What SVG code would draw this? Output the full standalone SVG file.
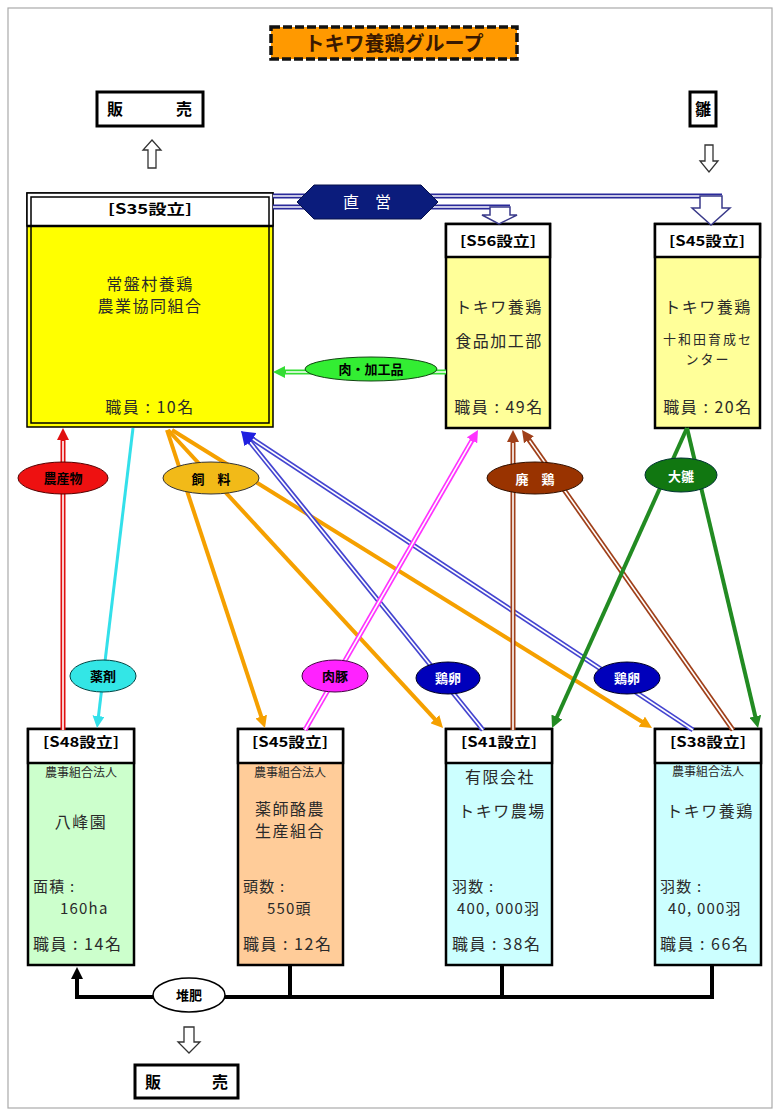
<svg xmlns="http://www.w3.org/2000/svg" width="780" height="1118" viewBox="0 0 780 1118">
<style>
text{font-family:"Noto Sans CJK JP","Noto Sans",sans-serif;}
.body{font-size:16px;fill:#2a2a2a;letter-spacing:1.5px;}
.num{font-size:15px;fill:#2a2a2a;letter-spacing:1.2px;}
.small{font-size:12px;fill:#2a2a2a;}
.hdr{font-size:14px;font-weight:bold;fill:#000;}
.lbl{font-size:13px;font-weight:bold;text-anchor:middle;}
.nbox{stroke:#000;stroke-width:2.5;}
.sep{stroke:#000;stroke-width:2.5;}
.hollow{fill:#fff;stroke:#333;stroke-width:1.3;}
.dbl-in{stroke:#fff;stroke-width:1.6;fill:none;}
</style>
<defs>
<marker id="aOrange" viewBox="0 0 12 12" refX="4" refY="6" markerWidth="12" markerHeight="12" markerUnits="userSpaceOnUse" orient="auto"><path d="M0,0 L12,6 L0,12 z" fill="#F5A000"/></marker>
<marker id="aGreen" viewBox="0 0 12 12" refX="4" refY="6" markerWidth="12" markerHeight="12" markerUnits="userSpaceOnUse" orient="auto"><path d="M0,0 L12,6 L0,12 z" fill="#228B22"/></marker>
<marker id="aCyan" viewBox="0 0 12 12" refX="4" refY="6" markerWidth="12" markerHeight="12" markerUnits="userSpaceOnUse" orient="auto"><path d="M0,0 L12,6 L0,12 z" fill="#33E0EA"/></marker>
<marker id="aRed" viewBox="0 0 12 12" refX="4" refY="6" markerWidth="12" markerHeight="12" markerUnits="userSpaceOnUse" orient="auto"><path d="M0,0 L12,6 L0,12 z" fill="#E01010"/></marker>
<marker id="aBlue" viewBox="0 0 12 12" refX="4" refY="6" markerWidth="14" markerHeight="14" markerUnits="userSpaceOnUse" orient="auto"><path d="M0,0 L12,6 L0,12 z" fill="#2020E0"/></marker>
<marker id="aMag" viewBox="0 0 12 12" refX="4" refY="6" markerWidth="12" markerHeight="12" markerUnits="userSpaceOnUse" orient="auto"><path d="M0,0 L12,6 L0,12 z" fill="#FF33FF"/></marker>
<marker id="aBrown" viewBox="0 0 12 12" refX="4" refY="6" markerWidth="12" markerHeight="12" markerUnits="userSpaceOnUse" orient="auto"><path d="M0,0 L12,6 L0,12 z" fill="#A0401A"/></marker>
<marker id="aLime" viewBox="0 0 12 12" refX="4" refY="6" markerWidth="12" markerHeight="12" markerUnits="userSpaceOnUse" orient="auto"><path d="M0,0 L12,6 L0,12 z" fill="#33DD33"/></marker>
<marker id="aBlack" viewBox="0 0 12 12" refX="4" refY="6" markerWidth="12" markerHeight="12" markerUnits="userSpaceOnUse" orient="auto"><path d="M0,0 L12,6 L0,12 z" fill="#000"/></marker>
</defs>
<rect x="0" y="0" width="780" height="1118" fill="#fff"/>
<rect x="8" y="8" width="764" height="1100" fill="none" stroke="#aaa" stroke-width="1.2"/>

<g id="title">
<rect x="271" y="27" width="246" height="32" fill="#FF9900" stroke="#111" stroke-width="3.5" stroke-dasharray="9,3"/>
<text x="394" y="51" font-size="20" font-weight="bold" fill="#3a1800" text-anchor="middle">トキワ養鶏グループ</text>
</g>

<g id="sales-top">
<rect x="97" y="92" width="106" height="34" fill="#fff" stroke="#000" stroke-width="3"/>
<text font-size="16" font-weight="bold" y="115"><tspan x="107">販</tspan><tspan x="176">売</tspan></text>
</g>
<g id="chick-top">
<rect x="690" y="92" width="26" height="34" fill="#fff" stroke="#000" stroke-width="3"/>
<text x="703" y="115" font-size="16" font-weight="bold" text-anchor="middle">雛</text>
</g>
<g id="sales-bottom">
<rect x="135" y="1065" width="103" height="33" fill="#fff" stroke="#000" stroke-width="3"/>
<text font-size="16" font-weight="bold" y="1088"><tspan x="145">販</tspan><tspan x="212">売</tspan></text>
</g>

<g id="node-tokiwamura">
<rect x="27" y="193" width="246" height="234" fill="#FFFF00" stroke="#000" stroke-width="1.5"/>
<rect x="27" y="193" width="246" height="33" fill="#fff" stroke="#000" stroke-width="1.5"/>
<rect x="31" y="197" width="238" height="226" fill="none" stroke="#000" stroke-width="1.5"/>
<line x1="27" y1="226" x2="273" y2="226" class="sep"/>
<text x="150" y="214" class="hdr" font-size="15" text-anchor="middle" textLength="84" lengthAdjust="spacingAndGlyphs">[S35設立]</text>
<text x="150" y="290" class="body" text-anchor="middle">常盤村養鶏</text>
<text x="150" y="312" class="body" text-anchor="middle">農業協同組合</text>
<text x="150" y="413" class="body" text-anchor="middle">職員 : 10名</text>
</g>

<g id="node-food">
<rect x="446" y="224" width="104" height="204" fill="#FFFF99" class="nbox"/>
<rect x="446" y="224" width="104" height="33" fill="#fff" class="nbox"/>
<text x="498" y="246" class="hdr" text-anchor="middle" textLength="76" lengthAdjust="spacingAndGlyphs">[S56設立]</text>
<text x="499" y="313" class="body" text-anchor="middle">トキワ養鶏</text>
<text x="499" y="347" class="body" text-anchor="middle">食品加工部</text>
<text x="499" y="413" class="body" text-anchor="middle">職員 : 49名</text>
</g>

<g id="node-towada">
<rect x="655" y="224" width="105" height="204" fill="#FFFF99" class="nbox"/>
<rect x="655" y="224" width="105" height="33" fill="#fff" class="nbox"/>
<text x="707" y="246" class="hdr" text-anchor="middle" textLength="76" lengthAdjust="spacingAndGlyphs">[S45設立]</text>
<text x="708" y="313" class="body" text-anchor="middle">トキワ養鶏</text>
<text x="708" y="344" font-size="13" fill="#2a2a2a" text-anchor="middle" letter-spacing="2">十和田育成セ</text>
<text x="708" y="364" font-size="13" fill="#2a2a2a" text-anchor="middle" letter-spacing="2">ンター</text>
<text x="708" y="413" class="body" text-anchor="middle">職員 : 20名</text>
</g>

<g id="node-happoen">
<rect x="28" y="729" width="106" height="236" fill="#CCFFCC" class="nbox"/>
<rect x="28" y="729" width="106" height="34" fill="#fff" class="nbox"/>
<text x="81" y="747" class="hdr" text-anchor="middle" textLength="76" lengthAdjust="spacingAndGlyphs">[S48設立]</text>
<text x="81" y="777" class="small" text-anchor="middle">農事組合法人</text>
<text x="81" y="828" class="body" text-anchor="middle">八峰園</text>
<text x="33" y="892" class="num">面積 :</text>
<text x="60" y="914" class="num">160ha</text>
<text x="33" y="950" class="body">職員 : 14名</text>
</g>

<g id="node-yakushi">
<rect x="238" y="729" width="105" height="236" fill="#FFCC99" class="nbox"/>
<rect x="238" y="729" width="105" height="34" fill="#fff" class="nbox"/>
<text x="290" y="747" class="hdr" text-anchor="middle" textLength="76" lengthAdjust="spacingAndGlyphs">[S45設立]</text>
<text x="290" y="777" class="small" text-anchor="middle">農事組合法人</text>
<text x="290" y="815" class="body" text-anchor="middle">薬師酪農</text>
<text x="290" y="837" class="body" text-anchor="middle">生産組合</text>
<text x="243" y="892" class="num">頭数 :</text>
<text x="267" y="914" class="num">550頭</text>
<text x="243" y="950" class="body">職員 : 12名</text>
</g>

<g id="node-tokiwa-farm">
<rect x="446" y="729" width="106" height="236" fill="#CCFFFF" class="nbox"/>
<rect x="446" y="729" width="106" height="34" fill="#fff" class="nbox"/>
<text x="499" y="747" class="hdr" text-anchor="middle" textLength="76" lengthAdjust="spacingAndGlyphs">[S41設立]</text>
<text x="500" y="783" class="body" text-anchor="middle">有限会社</text>
<text x="502" y="817" class="body" text-anchor="middle">トキワ農場</text>
<text x="452" y="892" class="num">羽数 :</text>
<text x="457" y="914" class="num">400, 000羽</text>
<text x="452" y="950" class="body">職員 : 38名</text>
</g>

<g id="node-tokiwa-yokei">
<rect x="655" y="729" width="106" height="236" fill="#CCFFFF" class="nbox"/>
<rect x="655" y="729" width="106" height="34" fill="#fff" class="nbox"/>
<text x="708" y="747" class="hdr" text-anchor="middle" textLength="76" lengthAdjust="spacingAndGlyphs">[S38設立]</text>
<text x="708" y="776" class="small" text-anchor="middle">農事組合法人</text>
<text x="710" y="817" class="body" text-anchor="middle">トキワ養鶏</text>
<text x="660" y="892" class="num">羽数 :</text>
<text x="668" y="914" class="num">40, 000羽</text>
<text x="660" y="950" class="body">職員 : 66名</text>
</g>

<g id="connectors">
<path class="hollow" d="M152,140 L161,150 H156 V168 H148 V150 H143 Z"/>
<path class="hollow" d="M705,145 H713 V161 H718 L709,172 L700,161 H705 Z"/>
<path class="hollow" d="M184,1027 H194 V1042 H200 L189,1053 L178,1042 H184 Z"/>

<path d="M273,196 H722" stroke="#2a2a9a" stroke-width="5" fill="none"/>
<path d="M273,196 H722" class="dbl-in"/>
<path d="M273,207 H510" stroke="#2a2a9a" stroke-width="5" fill="none"/>
<path d="M273,207 H510" class="dbl-in"/>
<path d="M700,196 H722 V208 H730 L711,225 L692,208 H700 Z" fill="#fff" stroke="#3a3a8a" stroke-width="1.5"/>
<path d="M490,207 H510 V215 H517 L499,224 L482,215 H490 Z" fill="#fff" stroke="#3a3a8a" stroke-width="1.5"/>

<line x1="446" y1="372" x2="281" y2="372" stroke="#33DD33" stroke-width="5" marker-end="url(#aLime)"/>
<line x1="446" y1="372" x2="286" y2="372" class="dbl-in"/>

<line x1="63" y1="730" x2="63" y2="436" stroke="#E01010" stroke-width="5" marker-end="url(#aRed)"/>
<line x1="63" y1="730" x2="63" y2="441" class="dbl-in"/>

<line x1="133" y1="428" x2="98" y2="720" stroke="#33E0EA" stroke-width="3" marker-end="url(#aCyan)"/>

<line x1="167" y1="430" x2="262.5" y2="720.4" stroke="#F5A000" stroke-width="4" marker-end="url(#aOrange)"/>
<line x1="168" y1="430" x2="437.6" y2="722.1" stroke="#F5A000" stroke-width="4" marker-end="url(#aOrange)"/>
<line x1="172" y1="430" x2="645.2" y2="723.8" stroke="#F5A000" stroke-width="4" marker-end="url(#aOrange)"/>

<line x1="483" y1="730" x2="247" y2="438.2" stroke="#4444D0" stroke-width="5" marker-end="url(#aBlue)"/>
<line x1="483" y1="730" x2="250.1" y2="442.1" class="dbl-in"/>
<line x1="693" y1="730" x2="248.7" y2="436.4" stroke="#4444D0" stroke-width="5" marker-end="url(#aBlue)"/>
<line x1="693" y1="730" x2="252.9" y2="439.2" class="dbl-in"/>

<line x1="305" y1="730" x2="474" y2="436.9" stroke="#FF33FF" stroke-width="5" marker-end="url(#aMag)"/>
<line x1="305" y1="730" x2="471.5" y2="441.2" class="dbl-in"/>

<line x1="513" y1="730" x2="513" y2="438" stroke="#A0401A" stroke-width="5" marker-end="url(#aBrown)"/>
<line x1="513" y1="730" x2="513" y2="443" class="dbl-in"/>
<line x1="733" y1="730" x2="526.6" y2="436.5" stroke="#A0401A" stroke-width="5" marker-end="url(#aBrown)"/>
<line x1="733" y1="730" x2="529.5" y2="440.6" class="dbl-in"/>

<line x1="687" y1="428" x2="555.3" y2="720.7" stroke="#228B22" stroke-width="4" marker-end="url(#aGreen)"/>
<line x1="687" y1="428" x2="756.2" y2="720.2" stroke="#228B22" stroke-width="4" marker-end="url(#aGreen)"/>

<path d="M712,965 V997 H77 V975" stroke="#000" stroke-width="4" fill="none" marker-end="url(#aBlack)"/>
<path d="M290,965 V997 M502,965 V997" stroke="#000" stroke-width="4" fill="none"/>
</g>

<g id="labels">
<polygon points="297,202 314,185 421,185 438,202 421,219 314,219" fill="#0B1C7C" stroke="#06104a" stroke-width="1"/>
<text x="367" y="208" font-size="16" fill="#fff" text-anchor="middle">直　営</text>

<ellipse cx="371" cy="369" rx="66" ry="12" fill="#33EE33" stroke="#114411" stroke-width="1"/>
<text x="371" y="374" class="lbl" fill="#000">肉・加工品</text>

<ellipse cx="63" cy="478" rx="45" ry="16" fill="#EE1111" stroke="#500" stroke-width="1"/>
<text x="63" y="483" class="lbl" fill="#000">農産物</text>

<ellipse cx="211" cy="478" rx="48" ry="16" fill="#F2BA18" stroke="#333" stroke-width="1"/>
<text x="211" y="484" class="lbl" font-size="15" fill="#000">飼　料</text>

<ellipse cx="535" cy="478" rx="48" ry="16" fill="#993300" stroke="#331100" stroke-width="1"/>
<text x="535" y="484" class="lbl" font-size="15" fill="#fff" font-weight="normal">廃　鶏</text>

<ellipse cx="681" cy="475" rx="36" ry="17" fill="#117711" stroke="#033" stroke-width="1"/>
<text x="681" y="481" class="lbl" font-size="15" fill="#fff" font-weight="normal">大雛</text>

<ellipse cx="103" cy="676" rx="33" ry="16" fill="#33E6E6" stroke="#044" stroke-width="1"/>
<text x="103" y="681" class="lbl" fill="#000">薬剤</text>

<ellipse cx="335" cy="676" rx="33" ry="16" fill="#FF22FF" stroke="#404" stroke-width="1"/>
<text x="335" y="681" class="lbl" fill="#000">肉豚</text>

<ellipse cx="448" cy="678" rx="32" ry="16" fill="#0000BB" stroke="#002" stroke-width="1"/>
<text x="448" y="683" class="lbl" fill="#fff">鶏卵</text>

<ellipse cx="627" cy="678" rx="33" ry="16" fill="#0000BB" stroke="#002" stroke-width="1"/>
<text x="627" y="683" class="lbl" fill="#fff">鶏卵</text>

<ellipse cx="189" cy="995" rx="36" ry="17" fill="#fff" stroke="#000" stroke-width="1.5"/>
<text x="189" y="1000" class="lbl" fill="#000">堆肥</text>
</g>
</svg>
